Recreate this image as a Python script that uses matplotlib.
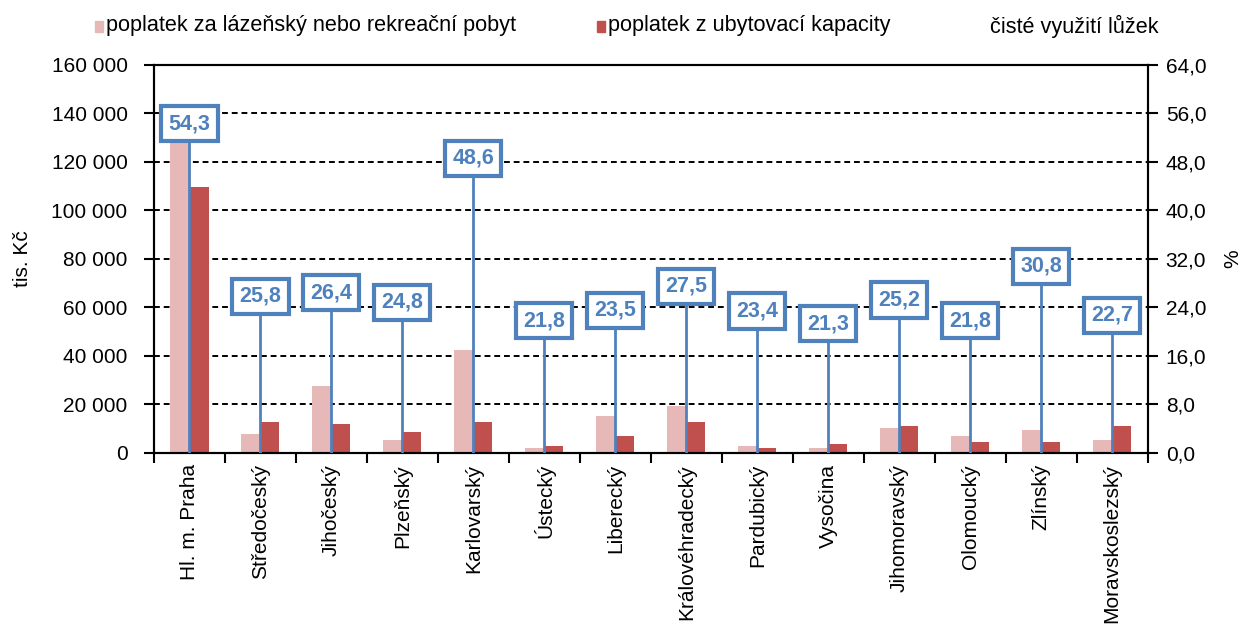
import matplotlib
matplotlib.use("Agg")
import matplotlib.pyplot as plt
import numpy as np
from matplotlib.patches import Rectangle
from matplotlib.ticker import FuncFormatter, MultipleLocator

plt.rcParams['font.family'] = ['Liberation Sans', 'DejaVu Sans']

# data
kraje = ["Hl. m. Praha", "Středočeský", "Jihočeský", "Plzeňský", "Karlovarský",
         "Ústecký", "Liberecký", "Královéhradecký", "Pardubický", "Vysočina",
         "Jihomoravský", "Olomoucký", "Zlínský", "Moravskoslezský"]
poplatek_lazensky = [130000, 7800, 27600, 5400, 42500, 2000, 15200, 19400,
                     2900, 2000, 10300, 7000, 9500, 5400]
poplatek_ubytovaci = [109500, 12800, 12000, 8700, 12800, 2900, 7000, 12800,
                      2000, 3700, 11100, 4500, 4500, 11100]
vyuziti_luzek = [54.3, 25.8, 26.4, 24.8, 48.6, 21.8, 23.5, 27.5,
                 23.4, 21.3, 25.2, 21.8, 30.8, 22.7]

light = '#E6B9B8'
dark = '#C0504D'
blue = '#4F81BD'
fs = 15

fig = plt.figure(figsize=(12.42, 6.29), dpi=100)
ax = fig.add_axes([0.124, 0.280, 0.800, 0.617])
ax2 = ax.twinx()

x = np.arange(len(kraje))
w = 0.268
ax.bar(x - w / 2, poplatek_lazensky, w, color=light, zorder=2)
ax.bar(x + w / 2, poplatek_ubytovaci, w, color=dark, zorder=2)

ax.set_ylim(0, 160000)
ax.set_xlim(-0.5, len(kraje) - 0.5)
ax.yaxis.set_major_locator(MultipleLocator(20000))
ax.yaxis.set_major_formatter(FuncFormatter(lambda v, _: f'{int(v):,}'.replace(',', ' ')))
ax.grid(axis='y', color='black', linestyle=(0, (3, 2)), linewidth=1.4, zorder=0)
ax.set_axisbelow(True)

ax.set_xticks(x)
ax.set_xticklabels(kraje, rotation=90, fontsize=fs)
ax.tick_params(axis='x', length=0, pad=8)
ax.set_xticks(np.arange(-0.5, len(kraje), 1), minor=True)
ax.tick_params(axis='x', which='minor', length=7, width=1.5, direction='out')
ax.tick_params(axis='y', labelsize=fs, length=7, width=1.5, direction='out', pad=12)
ax.set_ylabel('tis. Kč', fontsize=fs, labelpad=14)

for s in ax.spines.values():
    s.set_linewidth(1.5)
for s in ax2.spines.values():
    s.set_linewidth(1.5)

ax2.set_ylim(0, 64)
ax2.yaxis.set_major_locator(MultipleLocator(8))
ax2.yaxis.set_major_formatter(FuncFormatter(lambda v, _: f'{v:.1f}'.replace('.', ',')))
ax2.tick_params(axis='y', labelsize=fs, length=7, width=1.5, direction='out', pad=6)
ax2.set_ylabel('%', fontsize=fs, labelpad=12)

ax2.vlines(x, 0, vyuziti_luzek, color=blue, linewidth=2, zorder=3)
for xi, v in zip(x, vyuziti_luzek):
    ax2.text(xi, v, f'{v:.1f}'.replace('.', ','), ha='center', va='center',
             fontsize=15.5, fontweight='bold', color=blue, zorder=4,
             bbox=dict(boxstyle='square,pad=0.33', fc='white', ec=blue, lw=3))

# legend
lfs = 15.6
fig.patches.append(Rectangle((95 / 1242, 1 - 32 / 629), 8 / 1242, 11 / 629,
                             transform=fig.transFigure, color=light))
fig.text(106 / 1242, 1 - 26 / 629, 'poplatek za lázeňský nebo rekreační pobyt',
         fontsize=lfs, va='center', ha='left')
fig.patches.append(Rectangle((597 / 1242, 1 - 32 / 629), 8 / 1242, 11 / 629,
                             transform=fig.transFigure, color=dark))
fig.text(608 / 1242, 1 - 26 / 629, 'poplatek z ubytovací kapacity',
         fontsize=lfs, va='center', ha='left')
fig.text(990 / 1242, 1 - 26 / 629, 'čisté využití lůžek',
         fontsize=lfs, va='center', ha='left')

fig.savefig('out.png', dpi=100)
